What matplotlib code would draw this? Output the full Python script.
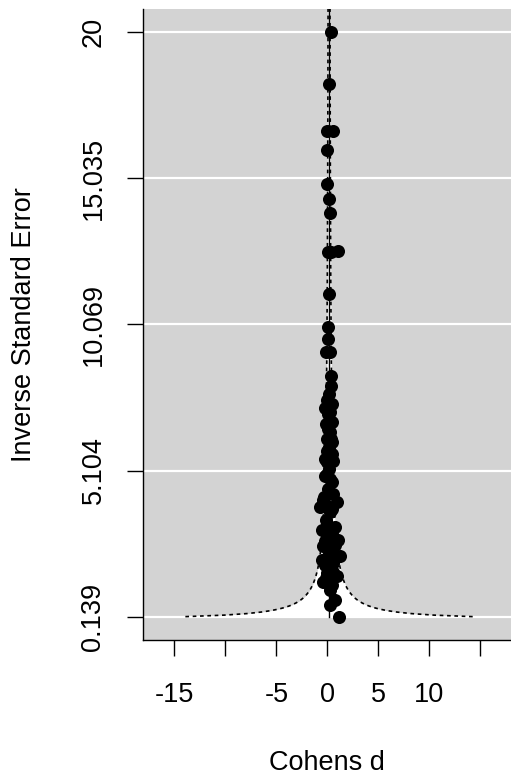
import numpy as np
import matplotlib
matplotlib.use("Agg")
import matplotlib.pyplot as plt

plt.rcParams['font.family'] = ['Liberation Sans', 'DejaVu Sans']

# ---- data ----
effect = [0.33, 0.14, -0.03, 0.56, 0.00, 0.00, 0.20, 0.26, 0.07, 0.36, 1.05,
          0.20, 0.10, 0.10, -0.13, 0.26, 0.33, 0.36, 0.20,
          -0.23, 0.43, -0.13, 0.43, 0.26, -0.06, 0.43, -0.06, 0.43, -0.23, 0.59,
          -0.06, -0.23, 0.43, 0.07, -0.32, 0.92, -0.72, 0.26, -0.13, 0.76,
          -0.55, 0.10, 1.08, -0.39, 0.76, 1.25, -0.55, 0.59, -0.06, 0.92,
          -0.39, 0.26, 0.76, 0.26, 1.18,
          0.17, 0.56, -0.13, 0.36, 0.17, -0.23, 0.36, 0.07,
          0.00, 0.30, 0.10, 0.20, 0.00, 0.30, -0.40, 0.50, 0.00, 0.50,
          -0.20, 0.40, 0.10, 0.50, -0.10, 0.60, 0.10]
inv_se = [20.00, 18.23, 16.64, 16.64, 15.99, 14.85, 14.32, 13.85, 12.52, 12.52, 12.55,
          11.12, 9.99, 9.56, 9.13, 9.13, 8.31, 7.97, 7.69,
          7.24, 7.35, 6.67, 6.74, 6.40, 6.16, 6.06, 5.76, 5.65, 5.48, 5.42,
          5.38, 4.91, 4.70, 4.46, 4.22, 4.02, 3.85, 3.68, 3.44, 3.20,
          3.10, 2.87, 2.76, 2.53, 2.59, 2.19, 2.08, 1.96, 1.62, 1.51,
          1.30, 1.06, 0.72, 0.55, 0.139,
          5.14, 4.29, 3.95, 2.42, 1.40, 1.91, 6.16, 7.01,
          7.50, 7.10, 6.50, 5.90, 5.00, 4.80, 4.10, 3.80, 3.30, 3.00,
          2.70, 2.30, 1.80, 1.20, 1.45, 1.65, 2.20]
estimate = 0.17
ytick_vals = [0.139, 5.104, 10.069, 15.035, 20]
ytick_labels = ["0.139", "5.104", "10.069", "15.035", "20"]
xtick_vals = [-15, -10, -5, 0, 5, 10, 15]
xtick_labels = ["-15", "", "-5", "0", "5", "10", ""]

W, H = 511, 776
fig = plt.figure(figsize=(W / 100, H / 100), dpi=100)
ax = fig.add_axes([143.3 / W, 1 - 640 / H, (512 - 143.3) / W, (640 - 9) / H])
ax.set_facecolor('#D3D3D3')

xlo, xhi = -18.06, 18.13
ylo, yhi = -0.655, 20.79
ax.set_xlim(xlo, xhi)
ax.set_ylim(ylo, yhi)

# white horizontal grid lines at y ticks
for yv in ytick_vals:
    ax.axhline(yv, color='white', lw=1.6, zorder=1)

# funnel region
yy = np.linspace(min(inv_se), yhi, 400)
left = estimate - 1.96 / yy
right = estimate + 1.96 / yy
ax.fill_betweenx(yy, left, right, color='white', lw=0, zorder=2)
ax.plot(left, yy, color='black', lw=1.2, ls=(0, (2.2, 2.2)), zorder=3)
ax.plot(right, yy, color='black', lw=1.2, ls=(0, (2.2, 2.2)), zorder=3)
ax.plot([estimate, estimate], [min(inv_se), yhi], color='black', lw=1.0, zorder=3)

# points
ax.plot(effect, inv_se, 'o', color='black', markersize=9.4, markeredgewidth=0, zorder=4)

# spines
for s in ['top', 'right']:
    ax.spines[s].set_visible(False)
for s in ['left', 'bottom']:
    ax.spines[s].set_linewidth(1.0)
    ax.spines[s].set_color('black')

ax.set_xticks(xtick_vals)
ax.set_xticklabels(xtick_labels)
ax.set_yticks(ytick_vals)
ax.set_yticklabels(ytick_labels, rotation=90, va='center')
ax.tick_params(axis='both', direction='out', length=11.5, width=1.0,
               labelsize=19.5, colors='black')
ax.tick_params(axis='x', pad=18.5)
ax.tick_params(axis='y', pad=15)

fig.text(24 / W, 1 - 324.5 / H, 'Inverse Standard Error', rotation=90,
         ha='center', va='center', fontsize=19.5)
fig.text(327 / W, 1 - 770 / H, 'Cohens d', ha='center', va='baseline', fontsize=19.5)

fig.savefig('out.png', dpi=100)
